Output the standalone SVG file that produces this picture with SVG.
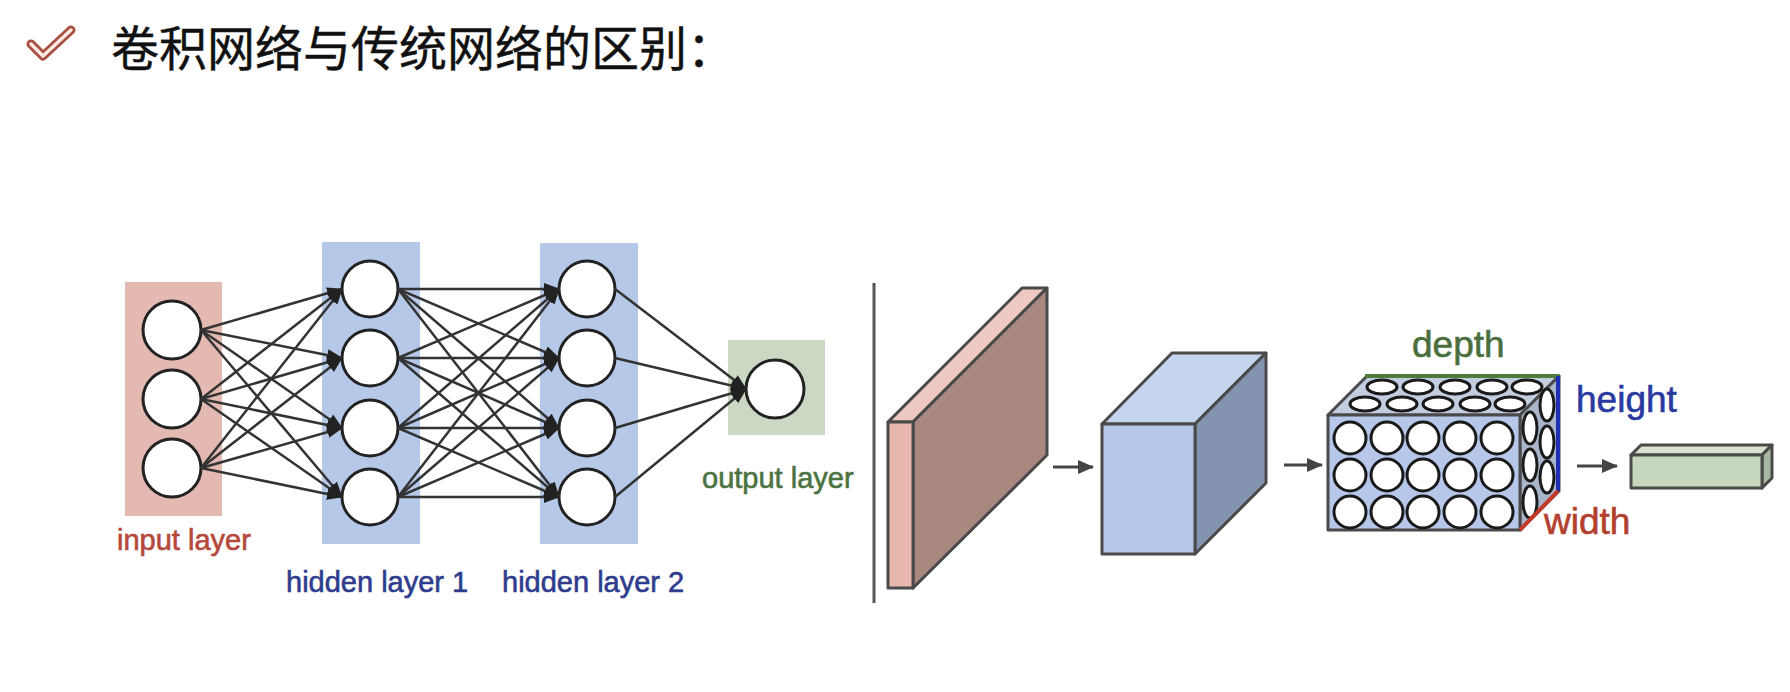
<svg xmlns="http://www.w3.org/2000/svg" width="1790" height="692" viewBox="0 0 1790 692">
<style>
.lbl{font-family:"Liberation Sans",Arial,sans-serif;font-size:29px;stroke-width:0.6px}
.lbl2{font-family:"Liberation Sans",Arial,sans-serif;font-size:37px;stroke-width:0.6px}
.node{fill:#ffffff;stroke:#222;stroke-width:3}
.conn line{stroke:#333;stroke-width:2.5}
.face{stroke:#4a4a4a;stroke-width:3;stroke-linejoin:round}
.cell{fill:#ffffff;stroke:#1a1a1a;stroke-width:3}
</style>
<defs>
<marker id="ah" markerUnits="userSpaceOnUse" markerWidth="16" markerHeight="13" viewBox="0 0 16 13" refX="15" refY="6.5" orient="auto">
<path d="M0,0.5 L16,6.5 L0,12.5 z" fill="#222"/>
</marker>
<marker id="ah2" markerUnits="userSpaceOnUse" markerWidth="16" markerHeight="14" viewBox="0 0 16 14" refX="15" refY="7" orient="auto">
<path d="M0,0 L16,7 L0,14 z" fill="#444"/>
</marker>
</defs>
<rect width="1790" height="692" fill="#ffffff"/>

<g id="title">
<path d="M31,44 L43,56 L71,30" fill="none" stroke="#a85040" stroke-width="9" stroke-linecap="round" stroke-linejoin="round"/>
<path d="M31,44 L43,56 L71,30" fill="none" stroke="#fbe9e4" stroke-width="3.5" stroke-linecap="round" stroke-linejoin="round"/>
<text x="111" y="66" font-family="'Noto Sans CJK SC',sans-serif" font-size="48" fill="#111" stroke="#111" stroke-width="0.4">卷积网络与传统网络的区别：</text>
</g>

<g id="input-layer">
<rect x="125" y="282" width="97" height="234" fill="#e3b9b1"/>
<circle class="node" cx="172" cy="330" r="29"/>
<circle class="node" cx="172" cy="399" r="29"/>
<circle class="node" cx="172" cy="468" r="29"/>
<text class="lbl" x="117" y="550" fill="#b5473b" stroke="#b5473b">input layer</text>
</g>

<g id="hidden-layer-1">
<rect x="322" y="242" width="98" height="302" fill="#b5c8e8"/>
<circle class="node" cx="370" cy="289" r="28"/>
<circle class="node" cx="370" cy="358" r="28"/>
<circle class="node" cx="370" cy="428" r="28"/>
<circle class="node" cx="370" cy="497" r="28"/>
<text class="lbl" x="286" y="592" fill="#2f3c8e" stroke="#2f3c8e">hidden layer 1</text>
</g>

<g id="hidden-layer-2">
<rect x="540" y="243" width="98" height="301" fill="#b5c8e8"/>
<circle class="node" cx="587" cy="289" r="28"/>
<circle class="node" cx="587" cy="358" r="28"/>
<circle class="node" cx="587" cy="428" r="28"/>
<circle class="node" cx="587" cy="497" r="28"/>
<text class="lbl" x="502" y="592" fill="#2f3c8e" stroke="#2f3c8e">hidden layer 2</text>
</g>

<g id="output-layer">
<rect x="728" y="340" width="97" height="95" fill="#cbd8c3"/>
<circle class="node" cx="775" cy="389" r="29"/>
<text class="lbl" x="702" y="488" fill="#4c7242" stroke="#4c7242">output layer</text>
</g>

<g id="connectors" class="conn">
<line x1="201" y1="330" x2="342" y2="289" marker-end="url(#ah)"/>
<line x1="201" y1="330" x2="342" y2="358" marker-end="url(#ah)"/>
<line x1="201" y1="330" x2="342" y2="428" marker-end="url(#ah)"/>
<line x1="201" y1="330" x2="342" y2="497" marker-end="url(#ah)"/>
<line x1="201" y1="399" x2="342" y2="289" marker-end="url(#ah)"/>
<line x1="201" y1="399" x2="342" y2="358" marker-end="url(#ah)"/>
<line x1="201" y1="399" x2="342" y2="428" marker-end="url(#ah)"/>
<line x1="201" y1="399" x2="342" y2="497" marker-end="url(#ah)"/>
<line x1="201" y1="468" x2="342" y2="289" marker-end="url(#ah)"/>
<line x1="201" y1="468" x2="342" y2="358" marker-end="url(#ah)"/>
<line x1="201" y1="468" x2="342" y2="428" marker-end="url(#ah)"/>
<line x1="201" y1="468" x2="342" y2="497" marker-end="url(#ah)"/>

<line x1="398" y1="289" x2="559" y2="289" marker-end="url(#ah)"/>
<line x1="398" y1="289" x2="559" y2="358" marker-end="url(#ah)"/>
<line x1="398" y1="289" x2="559" y2="428" marker-end="url(#ah)"/>
<line x1="398" y1="289" x2="559" y2="497" marker-end="url(#ah)"/>
<line x1="398" y1="358" x2="559" y2="289" marker-end="url(#ah)"/>
<line x1="398" y1="358" x2="559" y2="358" marker-end="url(#ah)"/>
<line x1="398" y1="358" x2="559" y2="428" marker-end="url(#ah)"/>
<line x1="398" y1="358" x2="559" y2="497" marker-end="url(#ah)"/>
<line x1="398" y1="428" x2="559" y2="289" marker-end="url(#ah)"/>
<line x1="398" y1="428" x2="559" y2="358" marker-end="url(#ah)"/>
<line x1="398" y1="428" x2="559" y2="428" marker-end="url(#ah)"/>
<line x1="398" y1="428" x2="559" y2="497" marker-end="url(#ah)"/>
<line x1="398" y1="497" x2="559" y2="289" marker-end="url(#ah)"/>
<line x1="398" y1="497" x2="559" y2="358" marker-end="url(#ah)"/>
<line x1="398" y1="497" x2="559" y2="428" marker-end="url(#ah)"/>
<line x1="398" y1="497" x2="559" y2="497" marker-end="url(#ah)"/>

<line x1="615" y1="289" x2="746" y2="389" marker-end="url(#ah)"/>
<line x1="615" y1="358" x2="746" y2="389" marker-end="url(#ah)"/>
<line x1="615" y1="428" x2="746" y2="389" marker-end="url(#ah)"/>
<line x1="615" y1="497" x2="746" y2="389" marker-end="url(#ah)"/>

<line x1="874" y1="283" x2="874" y2="603" style="stroke:#555;stroke-width:3"/>
<line x1="1053" y1="467" x2="1093" y2="467" style="stroke:#444;stroke-width:3" marker-end="url(#ah2)"/>
<line x1="1284" y1="465" x2="1322" y2="465" style="stroke:#444;stroke-width:3" marker-end="url(#ah2)"/>
<line x1="1577" y1="466" x2="1617" y2="466" style="stroke:#444;stroke-width:3" marker-end="url(#ah2)"/>
</g>

<g id="input-volume">
<polygon class="face" points="888,422 1022,288 1047,288 913,422" fill="#edc9c2"/>
<polygon class="face" points="913,422 1047,288 1047,455 913,588" fill="#a8887f"/>
<polygon class="face" points="888,422 913,422 913,588 888,588" fill="#e8b7ae"/>
</g>

<g id="conv-volume">
<polygon class="face" points="1102,424 1172,353 1266,353 1195,424" fill="#c6d5ee"/>
<polygon class="face" points="1195,424 1266,353 1266,483 1195,554" fill="#8393b0"/>
<rect class="face" x="1102" y="424" width="93" height="130" fill="#b6c7e9"/>
</g>

<g id="neuron-volume">
<polygon class="face" points="1328,415 1367,376 1559,376 1520,415" fill="#c3cde0"/>
<polygon class="face" points="1520,415 1559,376 1559,491 1520,530" fill="#a9b5c9"/>
<rect class="face" x="1328" y="415" width="192" height="115" fill="#b6c7e9"/>
<g>
<ellipse class="cell" cx="1382" cy="387" rx="15" ry="7"/>
<ellipse class="cell" cx="1418" cy="387" rx="15" ry="7"/>
<ellipse class="cell" cx="1455" cy="387" rx="15" ry="7"/>
<ellipse class="cell" cx="1492" cy="387" rx="15" ry="7"/>
<ellipse class="cell" cx="1527" cy="387" rx="15" ry="7"/>
<ellipse class="cell" cx="1365" cy="404" rx="15" ry="7"/>
<ellipse class="cell" cx="1402" cy="404" rx="15" ry="7"/>
<ellipse class="cell" cx="1438" cy="404" rx="15" ry="7"/>
<ellipse class="cell" cx="1475" cy="404" rx="15" ry="7"/>
<ellipse class="cell" cx="1510" cy="404" rx="15" ry="7"/>
<ellipse class="cell" cx="1547" cy="405" rx="7" ry="16"/>
<ellipse class="cell" cx="1547" cy="442" rx="7" ry="16"/>
<ellipse class="cell" cx="1547" cy="477" rx="7" ry="16"/>
<ellipse class="cell" cx="1530" cy="428" rx="7" ry="16"/>
<ellipse class="cell" cx="1530" cy="465" rx="7" ry="16"/>
<ellipse class="cell" cx="1530" cy="502" rx="7" ry="16"/>
<circle class="cell" cx="1350" cy="438" r="16"/>
<circle class="cell" cx="1387" cy="438" r="16"/>
<circle class="cell" cx="1423" cy="438" r="16"/>
<circle class="cell" cx="1460" cy="438" r="16"/>
<circle class="cell" cx="1497" cy="438" r="16"/>
<circle class="cell" cx="1350" cy="475" r="16"/>
<circle class="cell" cx="1387" cy="475" r="16"/>
<circle class="cell" cx="1423" cy="475" r="16"/>
<circle class="cell" cx="1460" cy="475" r="16"/>
<circle class="cell" cx="1497" cy="475" r="16"/>
<circle class="cell" cx="1350" cy="512" r="16"/>
<circle class="cell" cx="1387" cy="512" r="16"/>
<circle class="cell" cx="1423" cy="512" r="16"/>
<circle class="cell" cx="1460" cy="512" r="16"/>
<circle class="cell" cx="1497" cy="512" r="16"/>
</g>
<line x1="1365" y1="376" x2="1559" y2="376" stroke="#4e7a3a" stroke-width="4"/>
<line x1="1558" y1="376" x2="1558" y2="491" stroke="#1f2fb5" stroke-width="4"/>
<line x1="1520" y1="530" x2="1558" y2="491" stroke="#c43a2a" stroke-width="4"/>
<text class="lbl2" x="1412" y="357" fill="#4a6e3c" stroke="#4a6e3c">depth</text>
<text class="lbl2" x="1576" y="412" fill="#2a3aa0" stroke="#2a3aa0">height</text>
<text class="lbl2" x="1544" y="534" fill="#b3402f" stroke="#b3402f">width</text>
</g>

<g id="output-volume">
<polygon class="face" points="1631,455 1641,445 1772,445 1762,455" fill="#d7e1cd"/>
<polygon class="face" points="1762,455 1772,445 1772,478 1762,488" fill="#a7b79f"/>
<rect class="face" x="1631" y="455" width="131" height="33" fill="#c6d7bd"/>
</g>
</svg>
